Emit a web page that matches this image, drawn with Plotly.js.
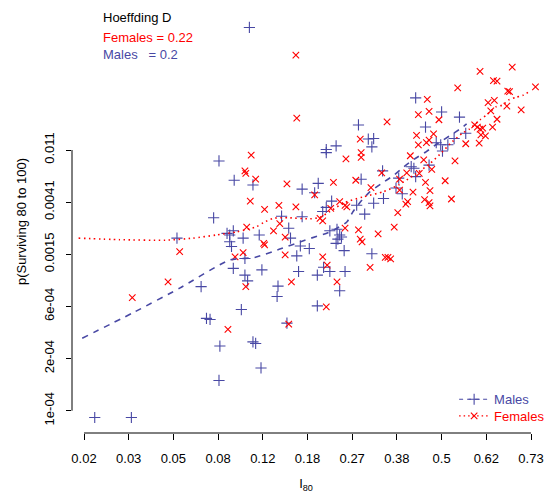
<!DOCTYPE html>
<html>
<head>
<meta charset="utf-8">
<script src="https://cdn.plot.ly/plotly-3.0.1.min.js"></script>
<style>html,body{margin:0;padding:0;background:#fff;}#chart{width:546px;height:502px;}</style>
</head>
<body>
<div id="chart"></div>
<script>
// x: logit(I80), y: log p(Surviving 80 to 100)
var xTickVals = [-4, -3.5, -3, -2.5, -2, -1.5, -1, -0.5, 0, 0.5, 1];
var xTickText = ['0.02','0.03','0.05','0.08','0.12','0.18','0.27','0.38','0.5','0.62','0.73'];
var yTickVals = [-9.5, -8.5, -7.5, -6.5, -5.5, -4.5];
var yTickText = ['1e-04','2e-04','6e-04','0.0015','0.0041','0.011'];

var maleX = [-2.15,-0.93,-0.82,-0.76,-1.18,-0.78,-1.29,-0.29,0.00,0.20,-0.18,0.27,0.14,-0.06,-0.01,0.07,0.01,-0.14,-0.34,-0.31,
  -0.29,-0.48,-0.51,-0.44,-1.29,-0.66,-2.32,-2.11,-0.90,-1.38,-1.56,-1.42,-0.65,-1.23,-0.95,-0.76,-1.29,-1.33,-0.86,-1.79,
  -1.56,-1.71,-2.33,-1.17,-1.25,-1.14,-1.12,-1.16,-2.22,-1.69,-2.37,-2.04,-1.18,-1.58,-1.48,-2.35,-1.09,-2.20,-1.62,-0.78,
  -1.32,-1.25,-2.33,-2.01,-1.60,-1.08,-1.39,-2.20,-2.17,-1.83,-2.49,-2.55,-2.96,-2.40,-2.37,-2.69,-2.63,-2.59,-2.48,-2.49,
  -3.88,-3.47,-1.84,-2.24,-1.39,-1.14,-1.73,-2.11,-2.08,-2.02];
var maleY = [-2.15,-4.02,-4.29,-4.28,-4.42,-4.44,-4.49,-3.50,-3.77,-3.87,-4.06,-4.18,-4.28,-4.36,-4.40,-4.40,-4.52,-4.79,-4.82,-4.85,
  -5.01,-5.04,-5.23,-5.34,-4.55,-4.90,-5.08,-5.17,-5.06,-5.14,-5.25,-5.32,-5.43,-5.48,-5.56,-5.52,-5.60,-5.68,-5.73,-5.77,
  -5.78,-6.00,-6.05,-6.02,-6.05,-6.13,-6.17,-6.21,-6.19,-6.19,-6.13,-6.13,-6.29,-6.34,-6.39,-6.35,-6.43,-6.58,-6.53,-6.49,
  -6.75,-6.83,-6.77,-6.80,-6.83,-6.83,-6.90,-6.90,-7.01,-7.11,-4.71,-5.80,-6.19,-6.10,-6.26,-7.12,-7.73,-7.75,-8.26,-8.92,
  -9.63,-9.63,-7.31,-7.56,-7.49,-7.20,-7.82,-8.18,-8.21,-8.68];

var femaleX = [-1.63,-1.62,-0.61,-0.91,0.79,0.43,0.58,0.62,1.05,0.18,0.74,0.76,-0.16,0.52,0.59,0.73,0.89,0.55,-0.14,-0.26,
  -0.03,0.62,0.37,0.40,0.43,0.46,0.57,-0.09,0.44,0.49,-0.28,-0.14,-0.17,0.27,0.42,-0.26,-0.35,0.15,-0.20,-0.11,
  -0.39,-0.25,-0.47,-0.18,0.04,-0.47,-0.32,-0.13,-0.19,0.11,-0.38,-0.40,-0.14,-0.13,-0.49,-0.53,-0.60,-0.57,-2.13,-1.07,
  -0.90,-0.90,-0.67,-2.20,-2.19,-2.08,-1.73,-1.21,-0.96,-0.79,-1.42,-2.14,-1.14,-1.08,-1.06,-1.82,-1.63,-1.98,-1.24,-1.36,
  -1.33,-1.81,-2.18,-1.88,-1.08,-0.93,-0.71,-1.75,-0.91,-0.89,-1.99,-1.98,-2.22,-2.31,-1.75,-0.63,-1.33,-1.28,-0.80,-2.19,
  -1.68,-1.17,-2.93,-3.06,-3.46,-2.39,-1.29,-1.71];
var femaleY = [-2.68,-3.89,-3.96,-4.29,-2.91,-2.99,-3.17,-3.18,-3.29,-3.31,-3.37,-3.38,-3.53,-3.59,-3.55,-3.66,-3.73,-3.75,-3.76,-3.82,
  -3.92,-3.91,-4.02,-4.06,-4.10,-4.08,-4.06,-4.19,-4.21,-4.23,-4.22,-4.31,-4.36,-4.38,-4.37,-4.40,-4.61,-4.71,-4.69,-4.87,
  -4.94,-4.95,-5.06,-5.12,-5.09,-5.27,-5.31,-5.28,-5.45,-5.44,-5.49,-5.54,-5.51,-5.57,-5.70,-5.98,-6.56,-6.59,-4.60,-4.67,
  -4.55,-4.64,-4.94,-4.90,-4.95,-5.06,-5.15,-5.12,-5.08,-5.22,-5.36,-5.48,-5.49,-5.56,-5.59,-5.56,-5.59,-5.64,-5.62,-5.81,
  -5.86,-5.91,-5.98,-6.05,-6.00,-6.03,-6.11,-6.17,-6.21,-6.26,-6.29,-6.32,-6.47,-6.55,-6.51,-6.56,-6.55,-6.71,-6.75,-7.12,
  -7.03,-7.03,-6.45,-7.03,-7.33,-7.94,-7.51,-7.84];

var maleSmoothX = [-4.02,-3.45,-2.93,-2.37,-2.09,-1.81,-1.53,-1.25,-1.06,-0.99,-0.89,-0.80,-0.67,-0.53,-0.42,-0.31,-0.17,-0.04,0.09,0.22,0.28];
var maleSmoothY = [-8.11,-7.62,-7.15,-6.61,-6.56,-6.40,-6.23,-6.07,-5.88,-5.68,-5.46,-5.30,-5.14,-4.98,-4.82,-4.68,-4.53,-4.37,-4.23,-4.08,-4.00];

var femaleSmoothX = [-4.06,-3.60,-3.09,-2.78,-2.52,-2.29,-2.07,-1.99,-1.88,-1.71,-1.47,-1.36,-1.25,-1.10,-0.88,-0.65,-0.47,-0.30,-0.13,0.00,0.12,0.24,0.31,0.43,0.50,0.61,0.68,0.75,0.83,0.91,0.98];
var femaleSmoothY = [-6.19,-6.22,-6.23,-6.19,-6.13,-6.07,-5.97,-5.89,-5.81,-5.80,-5.82,-5.79,-5.68,-5.52,-5.40,-5.30,-5.16,-4.97,-4.76,-4.55,-4.34,-4.17,-4.10,-3.92,-3.83,-3.67,-3.64,-3.54,-3.49,-3.45,-3.38];

var blue = '#4848a4';
var red = '#ff0000';
var font = 'Liberation Sans, Arial, Helvetica, sans-serif';
var fs = 13;

var traces = [
  {x: maleX, y: maleY, type: 'scatter', mode: 'markers', showlegend: false, cliponaxis: false,
   marker: {symbol: 'cross-thin-open', size: 8, line: {color: blue, width: 1.1}, color: blue}},
  {x: femaleX, y: femaleY, type: 'scatter', mode: 'markers', showlegend: false, cliponaxis: false,
   marker: {symbol: 'x-thin-open', size: 6.5, line: {color: red, width: 1.1}, color: red}},
  {x: maleSmoothX, y: maleSmoothY, type: 'scatter', mode: 'lines', showlegend: false,
   line: {color: blue, width: 1.6, dash: '6px,6px', shape: 'spline', smoothing: 0.6}},
  {x: femaleSmoothX, y: femaleSmoothY, type: 'scatter', mode: 'lines', showlegend: false,
   line: {color: red, width: 1.6, dash: '1.5px,3.5px', shape: 'spline', smoothing: 0.6}},
  {x: [null], y: [null], type: 'scatter', mode: 'lines+markers', legend: 'legend',
   name: '<span style="color:' + blue + '">Males</span>',
   line: {color: blue, width: 1.2, dash: '4px,4px'},
   marker: {symbol: 'cross-thin-open', size: 8, line: {color: blue, width: 1.1}}},
  {x: [null], y: [null], type: 'scatter', mode: 'lines+markers', legend: 'legend2',
   name: '<span style="color:' + red + '">Females</span>',
   line: {color: red, width: 1.2, dash: '1.5px,3px'},
   marker: {symbol: 'x-thin-open', size: 6.5, line: {color: red, width: 1.1}}}
];

var layout = {
  width: 546, height: 502,
  margin: {l: 72, r: 6, t: 10, b: 69, autoexpand: false},
  paper_bgcolor: '#fff', plot_bgcolor: '#fff',
  font: {family: font, size: fs, color: '#000'},
  showlegend: true,
  legend: {x: 0.8165, y: 0.0797, xanchor: 'left', yanchor: 'middle', bgcolor: 'rgba(0,0,0,0)',
           font: {family: font, size: fs}},
  legend2: {x: 0.8165, y: 0.0402, xanchor: 'left', yanchor: 'middle', bgcolor: 'rgba(0,0,0,0)',
           font: {family: font, size: fs}},
  xaxis: {
    range: [-4.1342, 1.1007], showgrid: false, zeroline: false, showline: false, automargin: false,
    tickmode: 'array', tickvals: xTickVals, ticktext: xTickText,
    ticks: 'outside', ticklen: 6, tickwidth: 1, tickcolor: '#000', ticklabelstandoff: 7,
    tickfont: {family: font, size: fs, color: '#000'},
    title: {text: 'I<sub>80</sub>', font: {family: font, size: fs, color: '#000'}, standoff: 14}
  },
  yaxis: {
    range: [-9.9277, -1.8149], showgrid: false, zeroline: false, showline: false, automargin: false,
    tickmode: 'array', tickvals: yTickVals, ticktext: yTickText, tickangle: -90,
    ticks: 'outside', ticklen: 5, tickwidth: 1, tickcolor: '#000', ticklabelstandoff: 7,
    tickfont: {family: font, size: fs, color: '#000'},
    title: {text: 'p(Surviving 80 to 100)', font: {family: font, size: fs, color: '#000'}, standoff: 12}
  },
  shapes: [
    {type: 'line', xref: 'x', yref: 'paper', x0: xTickVals[0], x1: xTickVals[xTickVals.length - 1], y0: 0, y1: 0,
     line: {color: '#000', width: 1}},
    {type: 'line', xref: 'paper', yref: 'y', x0: 0, x1: 0, y0: yTickVals[0], y1: yTickVals[yTickVals.length - 1],
     line: {color: '#000', width: 1}}
  ],
  annotations: [
    {xref: 'paper', yref: 'paper', x: 0.062, y: 0.982, xanchor: 'left', yanchor: 'middle', showarrow: false,
     text: 'Hoeffding D', font: {family: font, size: fs, color: '#000'}},
    {xref: 'paper', yref: 'paper', x: 0.062, y: 0.9355, xanchor: 'left', yanchor: 'middle', showarrow: false,
     text: 'Females = 0.22', font: {family: font, size: fs, color: red}},
    {xref: 'paper', yref: 'paper', x: 0.062, y: 0.8953, xanchor: 'left', yanchor: 'middle', showarrow: false,
     text: 'Males\u00a0\u00a0\u00a0= 0.2', font: {family: font, size: fs, color: blue}}
  ]
};

Plotly.newPlot('chart', traces, layout, {displayModeBar: false, staticPlot: true});
</script>
</body>
</html>
